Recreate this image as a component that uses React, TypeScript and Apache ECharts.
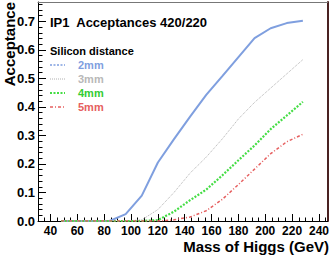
import React, { useEffect, useRef } from "react";
import * as echarts from "echarts";

// Higgs mass points (GeV)
const masses = [48, 60, 72, 84, 96, 108, 120, 132, 144, 156, 168, 180, 192, 204, 216, 228];
// Acceptance per silicon distance
const acc2mm = [0, 0, 0, 0, 0.024, 0.089, 0.205, 0.287, 0.366, 0.442, 0.508, 0.575, 0.641, 0.676, 0.694, 0.702];
const acc3mm = [0, 0, 0, 0, 0, 0.004, 0.04, 0.1, 0.168, 0.224, 0.288, 0.358, 0.416, 0.466, 0.516, 0.566];
const acc4mm = [0, 0, 0, 0, 0, 0, 0.003, 0.033, 0.073, 0.11, 0.16, 0.213, 0.265, 0.322, 0.37, 0.418];
const acc5mm = [0, 0, 0, 0, 0, 0, 0, 0.004, 0.014, 0.036, 0.076, 0.128, 0.182, 0.236, 0.278, 0.304];

const seriesNames = ["2mm", "3mm", "4mm", "5mm"];
const xTickLabels = [40, 60, 80, 100, 120, 140, 160, 180, 200, 220, 240];
const yTickLabels = [0, 0.1, 0.2, 0.3, 0.4, 0.5, 0.6, 0.7];

const titleText = "IP1  Acceptances 420/220";
const legendTitle = "Silicon distance";
const xName = "Mass of Higgs (GeV)";
const yName = "Acceptance";

export default function App() {
  const ref = useRef<HTMLDivElement>(null);

  useEffect(() => {
    if (!ref.current) return;
    const chart = echarts.init(ref.current, null, { renderer: "svg" });
    const font = "'Liberation Sans', Arial, Helvetica, sans-serif";
    const X_MIN = 30.7;
    const X_MAX = 246.5;
    const Y_MAX = 0.768;

    const xMinor: number[] = [];
    for (let v = 35; v <= 245; v += 5) xMinor.push(v);
    const yMinor: number[] = [];
    for (let i = 0; i <= 38; i++) yMinor.push(Math.round(i * 2) / 100);

    const styles = [
      { color: "#7f9fdf", width: 2, dash: "solid" as any, legendDash: [2, 1.5], legendWidth: 1.5, text: "#7f9fdf" },
      { color: "#b0b0b0", width: 1, dash: [1, 1], legendDash: [1, 1], legendWidth: 1, text: "#b8b8b8" },
      { color: "#44dd44", width: 2.2, dash: [2, 1.5], legendDash: [2, 1.5], legendWidth: 2, text: "#33cc33" },
      { color: "#e66060", width: 1.5, dash: [3, 2, 1, 2], legendDash: [3, 2, 1, 2], legendWidth: 1.5, text: "#e66060" },
    ];
    const datasets = [acc2mm, acc3mm, acc4mm, acc5mm];

    const legendRowsY = [65, 79, 93, 107];
    const legendGraphics: any[] = [];
    seriesNames.forEach((name, i) => {
      const st = styles[i];
      legendGraphics.push({
        type: "line",
        shape: { x1: 50, y1: legendRowsY[i], x2: 65, y2: legendRowsY[i] },
        style: {
          stroke: st.color,
          lineWidth: st.legendWidth,
          lineDash: st.legendDash,
        },
      });
      legendGraphics.push({
        type: "text",
        x: 78,
        y: legendRowsY[i],
        style: {
          text: name,
          fontFamily: font,
          fontSize: 11,
          fontWeight: "bold",
          fill: st.text,
          align: "left",
          verticalAlign: "middle",
        },
      });
    });

    chart.setOption({
      animation: false,
      backgroundColor: "#ffffff",
      grid: { left: 38, right: 4, top: 2, bottom: 34 },
      xAxis: [
        {
          type: "value",
          min: X_MIN,
          max: X_MAX,
          position: "bottom",
          axisLine: { show: true, onZero: false, lineStyle: { color: "#000", width: 1 } },
          axisTick: { show: true, inside: true, length: 7, customValues: xTickLabels, lineStyle: { color: "#000" } },
          axisLabel: {
            customValues: xTickLabels,
            fontFamily: font,
            fontWeight: "bold",
            fontSize: 12,
            color: "#000",
            margin: 4,
          },
          splitLine: { show: false },
        },
        {
          type: "value",
          min: X_MIN,
          max: X_MAX,
          position: "bottom",
          axisLine: { show: false, onZero: false },
          axisTick: { show: true, inside: true, length: 3.5, customValues: xMinor, lineStyle: { color: "#000" } },
          axisLabel: { show: false },
          splitLine: { show: false },
        },
        {
          type: "value",
          min: X_MIN,
          max: X_MAX,
          position: "top",
          axisLine: { show: true, onZero: false, lineStyle: { color: "#777", width: 1 } },
          axisTick: { show: false },
          axisLabel: { show: false },
          splitLine: { show: false },
        },
      ],
      yAxis: [
        {
          type: "value",
          min: 0,
          max: Y_MAX,
          position: "left",
          axisLine: { show: true, onZero: false, lineStyle: { color: "#000", width: 1 } },
          axisTick: { show: true, inside: true, length: 8, customValues: yTickLabels, lineStyle: { color: "#000" } },
          axisLabel: {
            customValues: yTickLabels,
            formatter: (v: number) => v.toFixed(1),
            fontFamily: font,
            fontWeight: "bold",
            fontSize: 13,
            color: "#000",
            margin: 3,
          },
          splitLine: { show: false },
        },
        {
          type: "value",
          min: 0,
          max: Y_MAX,
          position: "left",
          axisLine: { show: false, onZero: false },
          axisTick: { show: true, inside: true, length: 4.5, customValues: yMinor, lineStyle: { color: "#000" } },
          axisLabel: { show: false },
          splitLine: { show: false },
        },
        {
          type: "value",
          min: 0,
          max: Y_MAX,
          position: "right",
          axisLine: { show: true, onZero: false, lineStyle: { color: "#4a2222", width: 2 } },
          axisTick: { show: false },
          axisLabel: { show: false },
          splitLine: { show: false },
        },
      ],
      series: seriesNames.map((name, i) => ({
        name,
        type: "line",
        xAxisIndex: 0,
        yAxisIndex: 0,
        symbol: "none",
        data: masses.map((m, j) => [m, datasets[i][j]]),
        lineStyle: {
          color: styles[i].color,
          width: styles[i].width,
          type: styles[i].dash,
        },
        z: 2 + i,
      })),
      graphic: [
        {
          type: "text",
          x: 50,
          y: 22,
          style: {
            text: titleText,
            fontFamily: font,
            fontSize: 13,
            fontWeight: "bold",
            fill: "#000",
            align: "left",
            verticalAlign: "middle",
          },
        },
        {
          type: "text",
          x: 50,
          y: 50.5,
          style: {
            text: legendTitle,
            fontFamily: font,
            fontSize: 11,
            fontWeight: "bold",
            fill: "#000",
            align: "left",
            verticalAlign: "middle",
          },
        },
        ...legendGraphics,
        {
          type: "text",
          x: 329,
          y: 246,
          style: {
            text: xName,
            fontFamily: font,
            fontSize: 15,
            fontWeight: "bold",
            fill: "#000",
            align: "right",
            verticalAlign: "middle",
          },
        },
        {
          type: "text",
          x: 9,
          y: 2,
          rotation: Math.PI / 2,
          style: {
            text: yName,
            fontFamily: font,
            fontSize: 15,
            fontWeight: "bold",
            fill: "#000",
            align: "right",
            verticalAlign: "middle",
          },
        },
      ],
    });

    return () => chart.dispose();
  }, []);

  return (
    <div
      ref={ref}
      style={{ position: "fixed", left: 0, top: 0, width: 332, height: 255, background: "#fff" }}
    />
  );
}
